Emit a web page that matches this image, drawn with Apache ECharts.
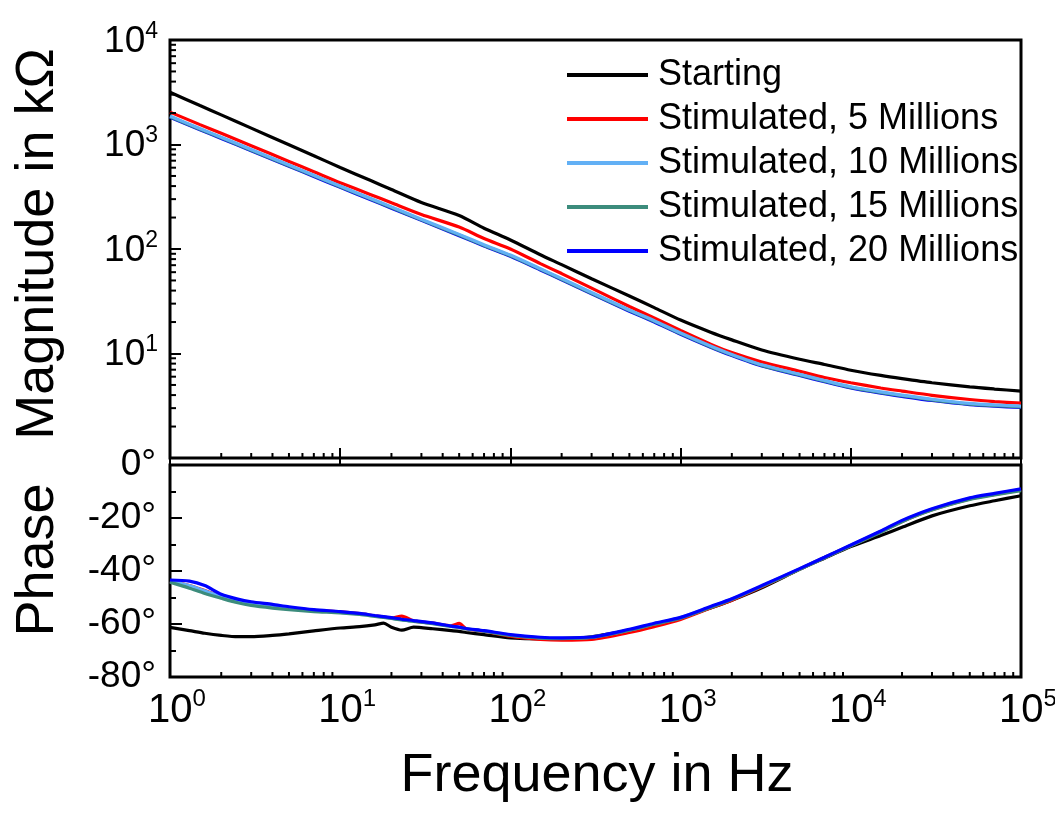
<!DOCTYPE html>
<html>
<head>
<meta charset="utf-8">
<script src="https://cdn.jsdelivr.net/npm/echarts@6/dist/echarts.min.js"></script>
<style>html,body{margin:0;padding:0;background:#fff}#c{width:1055px;height:813px}</style>
</head>
<body>
<div id="c"></div>
<script>
// ---------- data ----------
const seriesNames = ['Starting', 'Stimulated, 5 Millions', 'Stimulated, 10 Millions', 'Stimulated, 15 Millions', 'Stimulated, 20 Millions'];
const seriesColors = ['#000000', '#ff0000', '#62b0f5', '#3c8c7c', '#0000ff'];

// magnitude (kOhm) vs frequency (Hz)
const magFreq = [1, 1.5, 2, 3, 5, 7, 10, 15, 20, 30, 50, 70, 100, 150, 200, 300, 500, 700, 1000, 1500, 2000, 3000, 5000, 7000, 10000, 15000, 20000, 30000, 50000, 70000, 100000];
const magStarting = [3160, 2360, 1920, 1435, 993, 780, 603, 454, 371, 279, 209, 158, 122, 88, 70.8, 51.9, 35.5, 27.5, 20.9, 16.0, 13.5, 10.8, 8.8, 7.85, 6.92, 6.17, 5.75, 5.25, 4.79, 4.57, 4.37];
const mag5M = [2040, 1550, 1280, 973, 689, 549, 431, 333, 277, 214, 162, 126, 100, 72.4, 58.2, 42.2, 28.2, 21.9, 16.6, 12.3, 10.2, 8.3, 6.76, 5.89, 5.25, 4.68, 4.37, 3.98, 3.63, 3.47, 3.35];
const mag10M = [1870, 1420, 1175, 895, 636, 508, 400, 306, 253, 193, 138, 110, 87.5, 64.8, 52.2, 38.3, 26.1, 20.6, 15.7, 11.8, 9.8, 7.8, 6.34, 5.52, 4.81, 4.29, 4.0, 3.65, 3.33, 3.22, 3.14];
const mag15M = [1845, 1400, 1160, 883, 627, 501, 394, 302, 249, 190, 136, 108, 86.2, 63.9, 51.4, 37.7, 25.7, 20.3, 15.5, 11.6, 9.7, 7.7, 6.25, 5.44, 4.74, 4.23, 3.94, 3.6, 3.28, 3.17, 3.09];
const mag20M = [1820, 1387, 1143, 871, 619, 494, 389, 298, 246, 188, 134, 107, 85, 63, 50.7, 37.2, 25.4, 20, 15.3, 11.5, 9.55, 7.59, 6.17, 5.37, 4.68, 4.17, 3.89, 3.55, 3.24, 3.13, 3.05];

// phase (deg) vs frequency (Hz)
const phaseFreq = [1, 1.3, 1.6, 2, 2.5, 3, 4, 5, 7, 10, 13, 16, 18, 20, 23, 27, 35, 45, 50, 55, 70, 100, 150, 200, 300, 500, 700, 1000, 1500, 2000, 3000, 5000, 7000, 10000, 15000, 20000, 30000, 50000, 70000, 100000];
const phStarting = [-61.3, -62.5, -63.5, -64.3, -64.8, -64.8, -64.3, -63.7, -62.6, -61.5, -61.0, -60.3, -59.7, -61.2, -62.3, -61.2, -61.8, -62.5, -62.8, -63.2, -64.0, -65.2, -65.6, -65.5, -64.8, -62.3, -60.2, -57.8, -54.0, -51.0, -46.3, -39.4, -35.2, -30.8, -26.6, -23.5, -19.2, -15.4, -13.5, -11.6];
const ph5M = [-44.0, -45.5, -47.4, -49.5, -51.0, -52.0, -53.0, -53.8, -54.8, -55.4, -56.1, -56.9, -57.3, -57.7, -57.0, -58.8, -59.7, -60.6, -59.8, -61.8, -62.7, -64.6, -65.8, -66.1, -65.8, -63.2, -61.0, -58.3, -54.0, -51.0, -46.0, -39.3, -34.9, -30.4, -25.2, -21.3, -16.9, -12.8, -11.1, -9.4];
const ph10M = [-43.8, -45.5, -47.5, -49.6, -51.4, -52.4, -53.4, -54.1, -55.0, -55.6, -56.2, -57.0, -57.4, -57.8, -58.4, -58.9, -59.8, -60.9, -61.3, -61.8, -62.6, -64.2, -65.2, -65.4, -65.0, -62.3, -60.0, -57.6, -53.6, -50.6, -45.7, -39.2, -34.9, -30.3, -25.1, -21.1, -16.7, -12.6, -10.9, -9.3];
const ph15M = [-44.2, -46.5, -48.5, -50.3, -52.0, -53.0, -54.0, -54.6, -55.3, -55.8, -56.4, -57.1, -57.5, -57.9, -58.5, -59.0, -59.9, -60.9, -61.3, -61.8, -62.7, -64.3, -65.3, -65.5, -65.1, -62.4, -60.1, -57.8, -53.8, -50.8, -45.8, -39.4, -35.0, -30.5, -25.4, -21.4, -17.0, -13.0, -11.3, -9.7];
const ph20M = [-43.4, -43.8, -45.5, -48.8, -50.6, -51.6, -52.6, -53.5, -54.6, -55.3, -56.0, -56.8, -57.2, -57.6, -58.2, -58.7, -59.6, -60.8, -61.2, -61.7, -62.5, -64.0, -65.0, -65.2, -64.9, -62.0, -59.7, -57.5, -53.4, -50.5, -45.5, -39.1, -34.8, -30.2, -24.9, -20.9, -16.5, -12.4, -10.7, -9.0];

const magTickValues = [1, 10, 100, 1000, 10000];
const phaseTickLabels = ['-80°', '-60°', '-40°', '-20°', '0°'];

// ---------- chart ----------
const magSets = [magStarting, mag5M, mag10M, mag15M, mag20M];
const phSets = [phStarting, ph5M, ph10M, ph15M, ph20M];
const magZOrder = [2, 3, 6, 5, 4];   // light blue drawn on top in magnitude panel
const phZOrder = [2, 3, 4, 5, 6];    // blue drawn on top in phase panel

const FONT = '"Liberation Sans", Arial, sans-serif';

// minor tick positions for log axes
const xMinor = [];
for (let d = 1; d < 100000; d *= 10) for (let k = 2; k <= 9; k++) xMinor.push(k * d);
const yMinor = [];
for (let d = 1; d < 10000; d *= 10) for (let k = 2; k <= 9; k++) yMinor.push(k * d);

function xTickSeries(gridIdx, yRef, len) {
  return {
    type: 'custom', xAxisIndex: gridIdx, yAxisIndex: gridIdx, silent: true, z: 10,
    data: xMinor.map(v => [v, yRef]),
    encode: {x: 0, y: 1},
    renderItem: function (params, api) {
      const cs = params.coordSys;
      const p = api.coord([api.value(0), api.value(1)]);
      const yb = cs.y + cs.height;
      return {type: 'line', shape: {x1: p[0], y1: yb, x2: p[0], y2: yb - len}, style: {stroke: '#000', lineWidth: 2}};
    }
  };
}
function yTickSeries(len) {
  return {
    type: 'custom', xAxisIndex: 0, yAxisIndex: 0, silent: true, z: 10,
    data: yMinor.map(v => [10, v]),
    encode: {x: 0, y: 1},
    renderItem: function (params, api) {
      const cs = params.coordSys;
      const p = api.coord([api.value(0), api.value(1)]);
      return {type: 'line', shape: {x1: cs.x, y1: p[1], x2: cs.x + len, y2: p[1]}, style: {stroke: '#000', lineWidth: 2}};
    }
  };
}

const supRich = {
  b: {fontSize: 37, fontFamily: FONT, color: '#000', lineHeight: 40, verticalAlign: 'bottom'},
  s: {fontSize: 23, fontFamily: FONT, color: '#000', lineHeight: 24, verticalAlign: 'top'}
};
const xRich = {
  b: {fontSize: 40, fontFamily: FONT, color: '#000', lineHeight: 44, verticalAlign: 'bottom', padding: [0, 0, 0, 14]},
  s: {fontSize: 24, fontFamily: FONT, color: '#000', lineHeight: 24, verticalAlign: 'top'}
};

const series = [];
seriesNames.forEach((name, i) => {
  series.push({
    name: name, type: 'line', xAxisIndex: 0, yAxisIndex: 0, showSymbol: false, symbol: 'none',
    z: magZOrder[i], smooth: 0.25,
    itemStyle: {color: seriesColors[i]},
    lineStyle: {color: seriesColors[i], width: 3.2},
    data: magFreq.map((f, j) => [f, magSets[i][j]])
  });
  series.push({
    name: name, type: 'line', xAxisIndex: 1, yAxisIndex: 1, showSymbol: false, symbol: 'none',
    z: phZOrder[i], smooth: 0.25,
    itemStyle: {color: seriesColors[i]},
    lineStyle: {color: seriesColors[i], width: 3.2},
    data: phaseFreq.map((f, j) => [f, phSets[i][j]])
  });
});
series.push(xTickSeries(0, 10, 5));
series.push(xTickSeries(1, -40, 5));
series.push(yTickSeries(6));

const chart = echarts.init(document.getElementById('c'), null, {renderer: 'canvas'});
chart.setOption({
  animation: false,
  backgroundColor: '#fff',
  grid: [
    {left: 170, top: 40, width: 851, height: 418, show: true, borderColor: '#000', borderWidth: 3, backgroundColor: 'transparent', outerBoundsMode: 'none', containLabel: false},
    {left: 170, top: 465, width: 851, height: 212, show: true, borderColor: '#000', borderWidth: 3, backgroundColor: 'transparent', outerBoundsMode: 'none', containLabel: false}
  ],
  xAxis: [
    {type: 'log', logBase: 10, gridIndex: 0, min: 1, max: 100000, splitNumber: 5,
     axisLine: {show: false}, splitLine: {show: false},
     axisTick: {show: true, inside: true, length: 10, lineStyle: {color: '#000', width: 2}},
     axisLabel: {show: false}},
    {type: 'log', logBase: 10, gridIndex: 1, min: 1, max: 100000, splitNumber: 5,
     axisLine: {show: false}, splitLine: {show: false},
     axisTick: {show: true, inside: true, length: 10, lineStyle: {color: '#000', width: 2}},
     axisLabel: {show: true, margin: 10, rich: xRich, hideOverlap: false,
       formatter: v => '{b|10}{s|' + Math.round(Math.log10(v)) + '}'}}
  ],
  yAxis: [
    {type: 'log', logBase: 10, gridIndex: 0, min: 1, max: 10000, splitNumber: 4,
     axisLine: {show: false}, splitLine: {show: false},
     axisTick: {show: true, inside: true, length: 11, lineStyle: {color: '#000', width: 2}},
     axisLabel: {show: true, margin: 12, rich: supRich,
       formatter: v => {
         const e = Math.round(Math.log10(v));
         if (magTickValues.indexOf(Math.pow(10, e)) < 1) return '';
         return '{b|10}{s|' + e + '}';
       }}},
    {type: 'value', gridIndex: 1, min: -80, max: 0, interval: 20,
     axisLine: {show: false}, splitLine: {show: false},
     axisTick: {show: true, inside: true, length: 12, lineStyle: {color: '#000', width: 2}},
     minorTick: {show: true, splitNumber: 2, length: 6, lineStyle: {color: '#000', width: 2}},
     axisLabel: {show: true, margin: 14, fontSize: 37, fontFamily: FONT, color: '#000',
       formatter: v => phaseTickLabels[Math.round((v + 80) / 20)]}}
  ],
  legend: {
    show: true, orient: 'vertical', left: 562, top: 52,
    itemWidth: 81, itemHeight: 4, itemGap: 8, icon: 'rect',
    data: seriesNames,
    textStyle: {fontSize: 36, fontFamily: FONT, color: '#000', lineHeight: 36, padding: [0, 0, 0, 5]},
    selectedMode: false
  },
  graphic: [
    {type: 'text', x: 38, y: 244, rotation: Math.PI / 2,
     style: {text: 'Magnitude in kΩ', font: '54px ' + FONT, fill: '#000', textAlign: 'center', textVerticalAlign: 'middle'}},
    {type: 'text', x: 38, y: 560, rotation: Math.PI / 2,
     style: {text: 'Phase', font: '54px ' + FONT, fill: '#000', textAlign: 'center', textVerticalAlign: 'middle'}},
    {type: 'text', x: 597, y: 776,
     style: {text: 'Frequency in Hz', font: '54px ' + FONT, fill: '#000', textAlign: 'center', textVerticalAlign: 'middle'}}
  ],
  series: series
});
</script>
</body>
</html>
